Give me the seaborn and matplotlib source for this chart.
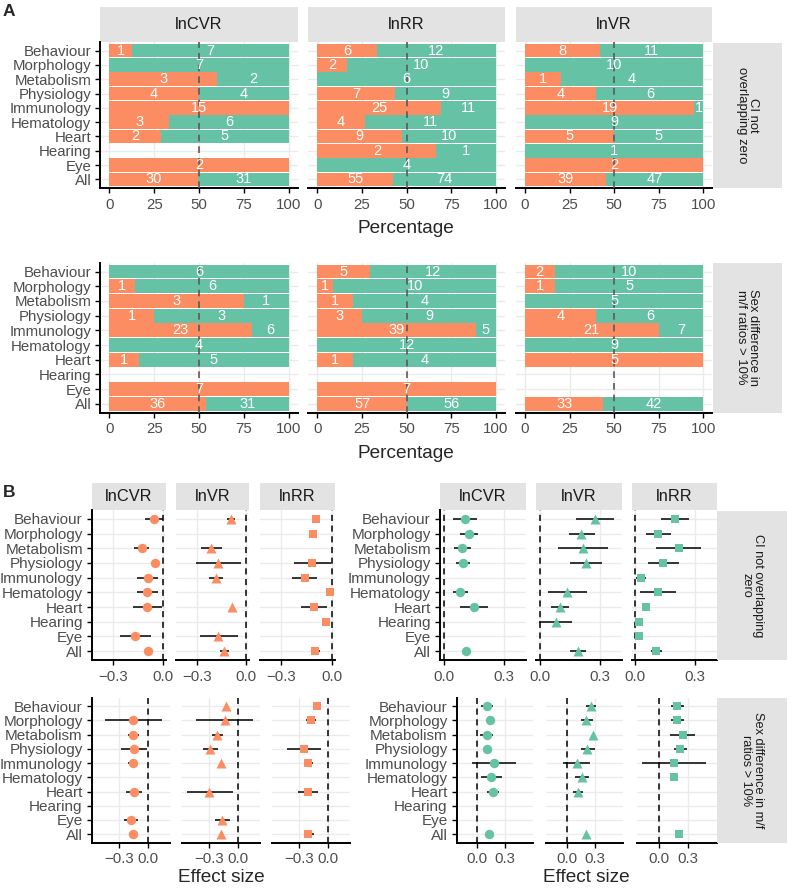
import numpy as np
import pandas as pd
import matplotlib
matplotlib.use("Agg")
import matplotlib.pyplot as plt
import seaborn as sns

sns.set_theme(style="white")
plt.rcParams['font.family'] = ['Liberation Sans', 'DejaVu Sans']

# ---------------- data ----------------
categories = ["Behaviour", "Morphology", "Metabolism", "Physiology", "Immunology",
              "Hematology", "Heart", "Hearing", "Eye", "All"]
metrics_A = ["lnCVR", "lnRR", "lnVR"]
metrics_B = ["lnCVR", "lnVR", "lnRR"]
x_ticks_A = [0, 25, 50, 75, 100]

# Panel A: counts (orange = first group, green = second group)
ci_orange = {"lnCVR": [1, 0, 3, 4, 15, 3, 2, 0, 2, 30],
             "lnRR":  [6, 2, 0, 7, 25, 4, 9, 2, 0, 55],
             "lnVR":  [8, 0, 1, 4, 19, 0, 5, 0, 2, 39]}
ci_green = {"lnCVR": [7, 7, 2, 4, 0, 6, 5, 0, 0, 31],
            "lnRR":  [12, 10, 6, 9, 11, 11, 10, 1, 4, 74],
            "lnVR":  [11, 10, 4, 6, 1, 9, 5, 1, 0, 47]}
sd_orange = {"lnCVR": [0, 1, 3, 1, 23, 0, 1, 0, 7, 36],
             "lnRR":  [5, 1, 1, 3, 39, 0, 1, 0, 7, 57],
             "lnVR":  [2, 1, 0, 4, 21, 0, 5, 0, 0, 33]}
sd_green = {"lnCVR": [6, 6, 1, 3, 6, 4, 5, 0, 0, 31],
            "lnRR":  [12, 10, 4, 9, 5, 12, 4, 0, 0, 56],
            "lnVR":  [10, 5, 5, 6, 7, 9, 0, 0, 0, 42]}

nan = np.nan
# Panel B, top row (CI not overlapping zero), negative effects (orange)
ci_neg_est = {"lnCVR": [-0.056, nan, -0.128, -0.05, -0.092, -0.096, -0.094, nan, -0.168, -0.088],
              "lnVR":  [-0.094, nan, -0.214, -0.168, -0.184, nan, -0.084, nan, -0.17, -0.132],
              "lnRR":  [-0.094, -0.11, nan, -0.118, -0.162, -0.012, -0.108, -0.036, nan, -0.098]}
ci_neg_lo = {"lnCVR": [-0.106, nan, -0.172, nan, -0.154, -0.156, -0.178, nan, -0.258, nan],
             "lnVR":  [-0.118, nan, -0.274, -0.302, -0.226, nan, nan, nan, -0.282, -0.158],
             "lnRR":  [-0.116, nan, nan, -0.226, -0.234, nan, -0.182, -0.06, nan, -0.122]}
ci_neg_hi = {"lnCVR": [-0.002, nan, -0.082, nan, -0.03, -0.032, -0.004, nan, -0.074, nan],
             "lnVR":  [-0.066, nan, -0.148, -0.028, -0.14, nan, nan, nan, -0.05, -0.106],
             "lnRR":  [-0.072, nan, nan, -0.006, -0.086, nan, -0.032, -0.01, nan, -0.07]}
# Panel B, top row, positive effects (green)
ci_pos_est = {"lnCVR": [0.107, 0.125, 0.093, 0.095, nan, 0.08, 0.152, nan, nan, 0.112],
              "lnVR":  [0.275, 0.208, 0.217, 0.233, nan, 0.138, 0.1, 0.083, nan, 0.192],
              "lnRR":  [0.197, 0.115, 0.217, 0.138, 0.027, 0.112, 0.055, 0.018, 0.018, 0.105]}
ci_pos_lo = {"lnCVR": [0.049, 0.083, 0.05, 0.062, nan, 0.047, 0.083, nan, nan, nan],
             "lnVR":  [0.18, 0.145, 0.093, 0.15, nan, 0.042, 0.055, -0.003, nan, 0.153],
             "lnRR":  [0.127, 0.052, 0.102, 0.065, 0.005, 0.022, nan, nan, nan, 0.077]}
ci_pos_hi = {"lnCVR": [0.167, 0.17, 0.137, 0.13, nan, 0.12, 0.222, nan, nan, nan],
             "lnVR":  [0.37, 0.275, 0.342, 0.313, nan, 0.238, 0.145, 0.163, nan, 0.23],
             "lnRR":  [0.268, 0.18, 0.33, 0.217, 0.055, 0.202, nan, nan, nan, 0.135]}
# Panel B, bottom row (sex difference > 10%), negative (orange)
sd_neg_est = {"lnCVR": [nan, -0.15, -0.15, -0.143, -0.15, nan, -0.14, nan, -0.173, -0.15],
              "lnVR":  [-0.124, -0.137, -0.21, -0.283, -0.177, nan, -0.293, nan, -0.167, -0.173],
              "lnRR":  [-0.113, -0.173, nan, -0.247, -0.2, nan, -0.207, nan, nan, -0.2]}
sd_neg_lo = {"lnCVR": [nan, -0.44, -0.2, -0.273, -0.2, nan, -0.223, nan, -0.25, nan],
             "lnVR":  [nan, -0.427, -0.27, -0.357, nan, nan, -0.527, nan, -0.237, nan],
             "lnRR":  [-0.157, -0.223, nan, -0.42, -0.247, nan, -0.313, nan, nan, -0.25]}
sd_neg_hi = {"lnCVR": [nan, 0.144, -0.093, -0.007, -0.103, nan, -0.057, nan, -0.103, nan],
             "lnVR":  [nan, 0.157, -0.15, -0.203, nan, nan, -0.053, nan, -0.083, nan],
             "lnRR":  [-0.067, -0.123, nan, -0.067, -0.153, nan, -0.1, nan, nan, -0.143]}
# Panel B, bottom row, positive (green)
sd_pos_est = {"lnCVR": [0.102, 0.138, 0.102, 0.109, 0.185, 0.149, 0.174, nan, nan, 0.13],
              "lnVR":  [0.261, 0.207, 0.278, 0.217, 0.104, 0.159, 0.12, nan, nan, 0.207],
              "lnRR":  [0.192, 0.192, 0.247, 0.222, 0.157, 0.163, nan, nan, nan, 0.207]}
sd_pos_lo = {"lnCVR": [0.04, nan, 0.029, 0.065, -0.054, 0.037, 0.102, nan, nan, nan],
             "lnVR":  [0.207, 0.145, nan, 0.145, -0.04, 0.087, 0.068, nan, nan, nan],
             "lnRR":  [0.127, 0.127, 0.12, 0.157, -0.174, nan, nan, nan, nan, nan]}
sd_pos_hi = {"lnCVR": [0.167, nan, 0.167, 0.157, 0.417, 0.265, 0.239, nan, nan, nan],
             "lnVR":  [0.315, 0.278, nan, 0.297, 0.25, 0.235, 0.177, nan, nan, nan],
             "lnRR":  [0.265, 0.258, 0.374, 0.29, 0.489, nan, nan, nan, nan, nan]}

# ---------------- style ----------------
ORANGE = "#FC8D62"
GREEN = "#66C2A5"
STRIP = "#E3E3E3"
GRID = "#EBEBEB"
TICKC = "#4D4D4D"
markers = {"lnCVR": "o", "lnVR": "^", "lnRR": "s"}
msize = {"lnCVR": 46, "lnVR": 52, "lnRR": 36}

W, H, DPI = 792, 888, 100
fig = plt.figure(figsize=(W / DPI, H / DPI), dpi=DPI)
fig.patch.set_facecolor("white")


def add_ax(l, t, r, b):
    return fig.add_axes([l / W, 1 - b / H, (r - l) / W, (b - t) / H])


def strip(l, t, r, b, text, rot=0, size=11.5):
    ax = add_ax(l, t, r, b)
    ax.set_xticks([]); ax.set_yticks([])
    for s in ax.spines.values():
        s.set_visible(False)
    ax.set_facecolor(STRIP)
    ax.text(0.5, 0.5, text, rotation=rot, ha="center", va="center",
            transform=ax.transAxes, fontsize=size, color="#1A1A1A", linespacing=1.0)


def style(ax, show_left, xticks, xlabels, ysize=10.8):
    ax.set_facecolor("white")
    ax.spines["top"].set_visible(False)
    ax.spines["right"].set_visible(False)
    ax.spines["bottom"].set_color("black")
    ax.spines["bottom"].set_linewidth(1.4)
    ax.spines["left"].set_color("black")
    ax.spines["left"].set_linewidth(1.4)
    ax.spines["left"].set_visible(show_left)
    ax.set_xticks(xticks)
    ax.set_xticklabels(xlabels)
    ax.set_yticks(range(len(categories)))
    ax.set_yticklabels(categories)
    ax.tick_params(axis="x", length=3.5, width=1, color="black", labelsize=10.8,
                   labelcolor=TICKC, pad=3.5, bottom=True)
    ax.tick_params(axis="y", length=3.5, width=1, color="black", labelsize=ysize,
                   labelcolor=TICKC, pad=3, left=show_left, labelleft=show_left)
    ax.grid(True, color=GRID, lw=1.0)
    ax.set_axisbelow(True)
    ax.set_xlabel("")
    ax.set_ylabel("")


def draw_A(ax, orange, green, show_left):
    o = np.array(orange, float)
    g = np.array(green, float)
    tot = o + g
    pct_o = np.where(tot > 0, 100 * o / np.where(tot > 0, tot, 1), 0)
    full = np.where(tot > 0, 100.0, 0.0)
    df = pd.DataFrame({"cat": categories, "full": full, "orange": pct_o})
    sns.barplot(data=df, y="cat", x="full", order=categories, orient="h", color=GREEN,
                saturation=1, width=0.94, linewidth=0, ax=ax, zorder=2)
    sns.barplot(data=df, y="cat", x="orange", order=categories, orient="h", color=ORANGE,
                saturation=1, width=0.94, linewidth=0, ax=ax, zorder=2)
    ax.axvline(50, color="#5A5A5A", ls=(0, (4, 3)), lw=1.2, zorder=3)
    for i in range(len(categories)):
        if o[i] > 0:
            ax.text(pct_o[i] / 2, i, f"{int(o[i])}", ha="center", va="center",
                    color="white", fontsize=10.5, zorder=4)
        if g[i] > 0:
            ax.text((pct_o[i] + 100) / 2, i, f"{int(g[i])}", ha="center", va="center",
                    color="white", fontsize=10.5, zorder=4)
    ax.set_xlim(-5, 105)
    ax.set_ylim(9.6, -0.6)
    style(ax, show_left, x_ticks_A, [str(t) for t in x_ticks_A])


def draw_B(ax, metric, est, lo, hi, color, xlim, xticks, show_left):
    df = pd.DataFrame({"y": np.arange(len(categories)), "est": est, "lo": lo, "hi": hi})
    seg = df.dropna(subset=["lo", "hi"])
    ax.hlines(seg["y"], seg["lo"], seg["hi"], color="black", lw=1.1, zorder=2)
    pts = df.dropna(subset=["est"])
    sns.scatterplot(data=pts, x="est", y="y", marker=markers[metric], color=color,
                    s=msize[metric], linewidth=0, ax=ax, zorder=3, legend=False)
    ax.axvline(0, color="black", ls=(0, (4, 3)), lw=1.1, zorder=1.5)
    ax.set_xlim(*xlim)
    ax.set_ylim(9.6, -0.6)
    labels = [("\u22120.3" if t < 0 else f"{t:.1f}") for t in xticks]
    style(ax, show_left, xticks, labels, ysize=11)


# ---------------- Panel A ----------------
A_x = [(100.3, 297.7), (308.3, 505), (516, 712.3)]
for j, m in enumerate(metrics_A):
    l, r = A_x[j]
    strip(l, 7.3, r, 41.7, m, size=11.8)
    ax = add_ax(l, 42, r, 188)
    draw_A(ax, ci_orange[m], ci_green[m], j == 0)
    ax = add_ax(l, 262.7, r, 412.7)
    draw_A(ax, sd_orange[m], sd_green[m], j == 0)
strip(713, 42.5, 782, 188, "CI not\noverlapping zero", rot=270, size=9.4)
strip(713, 262.7, 782, 412.7, "Sex difference in\nm/f ratios > 10%", rot=270, size=9.4)
fig.text(406 / W, 1 - 233 / H, "Percentage", ha="center", va="baseline", fontsize=13.7)
fig.text(406 / W, 1 - 458 / H, "Percentage", ha="center", va="baseline", fontsize=13.7)
fig.text(3 / W, 1 - 16 / H, "A", ha="left", va="baseline", fontsize=12.5, fontweight="bold")
fig.text(3 / W, 1 - 497 / H, "B", ha="left", va="baseline", fontsize=12.5, fontweight="bold")

# ---------------- Panel B ----------------
BT_left = [(92, 166), (176, 249), (260, 335)]
BT_right = [(440, 525.7), (536, 621.7), (631.7, 717.3)]
BB_left = [(91.7, 170), (181.7, 260), (271.7, 350)]
BB_right = [(456.7, 532.7), (546, 623.3), (636.7, 717.3)]

for j, m in enumerate(metrics_B):
    l, r = BT_left[j]
    strip(l, 483.3, r, 510, m, size=11.8)
    ax = add_ax(l, 510, r, 660)
    draw_B(ax, m, ci_neg_est[m], ci_neg_lo[m], ci_neg_hi[m], ORANGE,
           (-0.426, 0.018), [-0.3, 0.0], j == 0)
    l, r = BT_right[j]
    strip(l, 483.3, r, 510, m, size=11.8)
    ax = add_ax(l, 510, r, 660)
    draw_B(ax, m, ci_pos_est[m], ci_pos_lo[m], ci_pos_hi[m], GREEN,
           (-0.018, 0.41), [0.0, 0.3], j == 0)
    l, r = BB_left[j]
    ax = add_ax(l, 697.7, r, 842.7)
    draw_B(ax, m, sd_neg_est[m], sd_neg_lo[m], sd_neg_hi[m], ORANGE,
           (-0.58, 0.23), [-0.3, 0.0], j == 0)
    l, r = BB_right[j]
    ax = add_ax(l, 697.7, r, 842.7)
    draw_B(ax, m, sd_pos_est[m], sd_pos_lo[m], sd_pos_hi[m], GREEN,
           (-0.226, 0.605), [0.0, 0.3], j == 0)

strip(717.3, 510.7, 786.7, 660, "CI not overlapping\nzero", rot=270, size=9.2)
strip(717.3, 697.7, 787, 842.7, "Sex difference in m/f\nratios > 10%", rot=270, size=9.2)
fig.text(221.5 / W, 1 - 882 / H, "Effect size", ha="center", va="baseline", fontsize=13.7)
fig.text(586.5 / W, 1 - 882 / H, "Effect size", ha="center", va="baseline", fontsize=13.7)

fig.savefig("out.png", dpi=DPI, facecolor="white")
